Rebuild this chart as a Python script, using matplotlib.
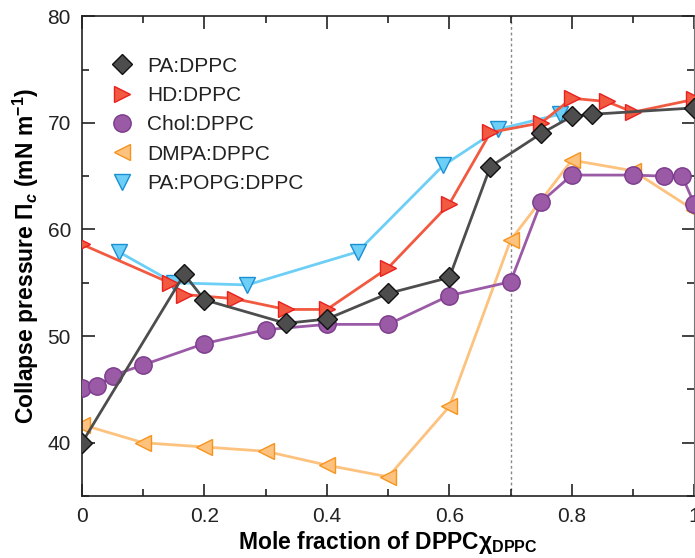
import matplotlib
matplotlib.use("Agg")
import matplotlib.pyplot as plt
from matplotlib.ticker import MultipleLocator

plt.rcParams["font.family"] = ["Liberation Sans", "DejaVu Sans"]
plt.rcParams["mathtext.fontset"] = "custom"
plt.rcParams["mathtext.rm"] = "Liberation Sans"
plt.rcParams["mathtext.bf"] = "Liberation Sans:bold"
plt.rcParams["mathtext.it"] = "Liberation Sans:italic:bold"

# ── data ─────────────────────────────────────────────────────────────────────
pa_x = [0.0, 0.167, 0.2, 0.333, 0.4, 0.5, 0.6, 0.667, 0.75, 0.8, 0.833, 1.0]
pa_y = [40.0, 55.8, 53.4, 51.2, 51.6, 54.0, 55.5, 65.9, 69.0, 70.6, 70.8, 71.4]

hd_x = [0.0, 0.143, 0.167, 0.25, 0.333, 0.4, 0.5, 0.6, 0.667, 0.75, 0.8, 0.857, 0.9, 1.0]
hd_y = [58.6, 55.0, 53.9, 53.5, 52.5, 52.5, 56.4, 62.4, 69.1, 70.0, 72.3, 72.0, 71.0, 72.2]

chol_x = [0.0, 0.025, 0.05, 0.1, 0.2, 0.3, 0.4, 0.5, 0.6, 0.7, 0.75, 0.8, 0.9, 0.95, 0.98, 1.0]
chol_y = [45.1, 45.3, 46.3, 47.3, 49.3, 50.6, 51.1, 51.1, 53.8, 55.1, 62.6, 65.1, 65.1, 65.0, 65.0, 62.4]

dmpa_x = [0.0, 0.1, 0.2, 0.3, 0.4, 0.5, 0.6, 0.7, 0.8, 0.9, 1.0]
dmpa_y = [41.7, 40.0, 39.6, 39.2, 37.9, 36.8, 43.4, 59.0, 66.5, 65.5, 61.8]

popg_x = [0.06, 0.15, 0.27, 0.45, 0.59, 0.68, 0.78]
popg_y = [57.9, 55.0, 54.8, 57.9, 66.0, 69.4, 70.8]

# ── figure ───────────────────────────────────────────────────────────────────
fig = plt.figure(figsize=(6.95, 5.58), dpi=100)
ax = fig.add_axes([0.118, 0.111, 0.881, 0.860])

ax.axvline(0.7, color="#888888", lw=1.0, ls=(0, (2, 2)), zorder=1)

ax.plot(dmpa_x, dmpa_y, color="#fdc27e", lw=2, marker="<", ms=12,
        mfc="#fdc27e", mec="#f7941d", mew=1, label="DMPA:DPPC", zorder=2)
ax.plot(chol_x, chol_y, color="#9a5aa6", lw=2, marker="o", ms=12.5,
        mfc="#9a5aa6", mec="#7b3a8c", mew=1, label="Chol:DPPC", zorder=3)
ax.plot(popg_x, popg_y, color="#6dcff6", lw=2, marker="v", ms=12,
        mfc="#6dcff6", mec="#1a8fd3", mew=1, label="PA:POPG:DPPC", zorder=4)
ax.plot(hd_x, hd_y, color="#f15a40", lw=2, marker=">", ms=12,
        mfc="#f15a40", mec="#e8201f", mew=1, label="HD:DPPC", zorder=5)
ax.plot(pa_x, pa_y, color="#4d4d4d", lw=2, marker="D", ms=10,
        mfc="#4d4d4d", mec="#111111", mew=1, label="PA:DPPC", zorder=6)

ax.set_xlim(0, 1)
ax.set_ylim(35, 80)
ax.xaxis.set_minor_locator(MultipleLocator(0.1))
ax.yaxis.set_minor_locator(MultipleLocator(5))
ax.set_xticks([0, 0.2, 0.4, 0.6, 0.8, 1.0])
ax.set_xticklabels(["0", "0.2", "0.4", "0.6", "0.8", "1"])
ax.set_yticks([40, 50, 60, 70, 80])
ax.tick_params(which="both", direction="in", top=True, right=True,
               labelsize=15, colors="#222222", pad=8)
ax.tick_params(which="major", length=9, width=1.2)
ax.tick_params(which="minor", length=5, width=1.2)
for side in ["left", "bottom", "top"]:
    ax.spines[side].set_color("#222222")
    ax.spines[side].set_linewidth(1.2)
ax.spines["right"].set_color("#777777")

ax.set_xlabel(r"Mole fraction of DPPC$\mathbf{\chi}_{\mathbf{DPPC}}$",
              fontsize=16.5, fontweight="bold", labelpad=2)
ax.set_ylabel(r"Collapse pressure $\mathbf{\Pi}_{c}$ (mN m$^{\mathbf{-1}}$)",
              fontsize=16.5, fontweight="bold", labelpad=5)

handles, labels = ax.get_legend_handles_labels()
order = ["PA:DPPC", "HD:DPPC", "Chol:DPPC", "DMPA:DPPC", "PA:POPG:DPPC"]
hmap = dict(zip(labels, handles))
leg = ax.legend([hmap[k] for k in order], order, loc="upper left",
                bbox_to_anchor=(0.015, 0.955), frameon=False, fontsize=15,
                handlelength=1.2, handletextpad=0.6, labelspacing=0.5)
for h in leg.legend_handles:
    h.set_linestyle("none")
for t in leg.get_texts():
    t.set_color("#222222")

fig.savefig("out.png", dpi=100)
